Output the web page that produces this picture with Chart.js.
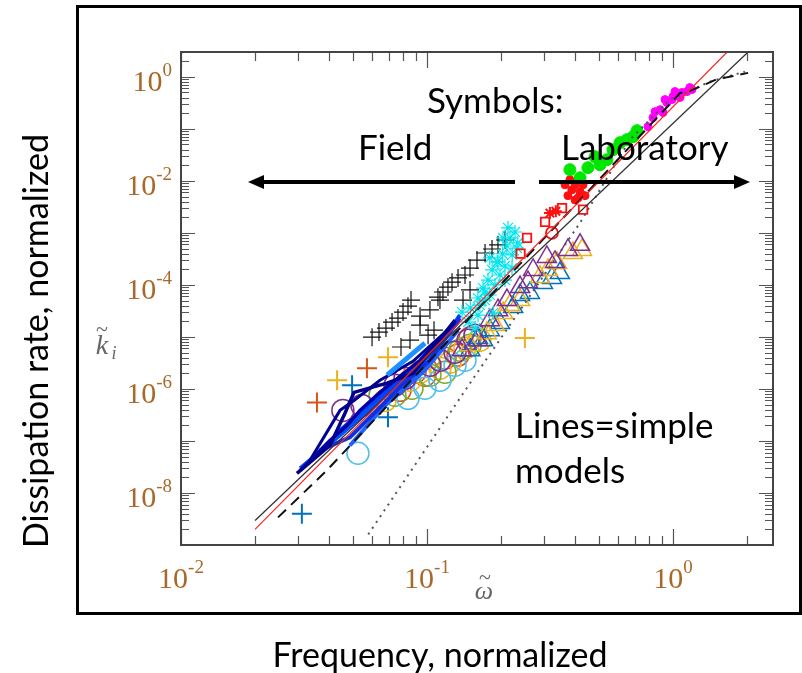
<!DOCTYPE html>
<html>
<head>
<meta charset="utf-8">
<script src="https://cdn.jsdelivr.net/npm/chart.js@4.4.0/dist/chart.umd.min.js"></script>
<style>
  html, body { margin: 0; padding: 0; background: #fff; }
  #wrap { width: 802px; height: 673px; }
</style>
</head>
<body>
<div id="wrap"><canvas id="dissChart" width="802" height="673"></canvas></div>
<script>
// axis ranges
const xRange = [0.01, 2.55];
const yRange = [1e-9, 3];
const xTickValues = [0.01, 0.1, 1];
const xTickExps = ['-2', '-1', '0'];
const yTickValues = [1, 1e-2, 1e-4, 1e-6, 1e-8];
const yTickExps = ['0', '-2', '-4', '-6', '-8'];

// simple model curves
const redLineX = [0.02, 1.66];
const redLineY = [2.0e-9, 3.0];
const solidLineX = [0.02, 2.02];
const solidLineY = [2.95e-9, 3.0];
const dashedLineX = [0.0248, 0.0391, 1.07, 1.17, 1.5, 2.02];
const dashedLineY = [3.4e-9, 2.7e-8, 0.49, 0.53, 0.89, 1.19];
const dottedLineX = [0.0577, 0.1524, 0.419, 0.669, 0.972, 1.414, 1.96];
const dottedLineY = [1.6e-9, 1.47e-6, 1.56e-3, 0.062, 0.365, 0.81, 1.26];

// field records drawn as lines
const bandAX = [0.0296, 0.0403, 0.0464, 0.0505, 0.0688, 0.0877, 0.13];
const bandAY = [2.38e-8, 8.2e-8, 3.4e-7, 8.6e-7, 1.29e-6, 2.0e-6, 2.1e-5];
const bandBX = [0.0305, 0.0403, 0.0473, 0.0534, 0.0644, 0.0937, 0.13];
const bandBY = [2.7e-8, 1.02e-7, 1.99e-7, 3.87e-7, 8.6e-7, 3.56e-6, 1.93e-5];
const bandCX = [0.0367, 0.0486, 0.0586, 0.0777, 0.1028, 0.136];
const bandCY = [6.56e-8, 1.17e-7, 2.85e-7, 1.08e-6, 3.56e-6, 2.3e-5];
const bandDX = [0.0443, 0.056, 0.0777, 0.1129, 0.136];
const bandDY = [1.59e-7, 4.23e-7, 1.47e-6, 6.95e-6, 2.62e-5];
const bandEX = [0.0688, 0.0981];
const bandEY = [1.84e-6, 7.6e-6];
const bandFX = [0.0334, 0.0443, 0.0505, 0.0644, 0.0877, 0.124];
const bandFY = [4.2e-8, 3.87e-7, 6.0e-7, 1.47e-6, 3.4e-6, 1.5e-5];
const bandGX = [0.0305, 0.0443, 0.0644, 0.0937, 0.1337];
const bandGY = [2.97e-8, 1.29e-7, 6.0e-7, 2.86e-6, 1.93e-5];
const bandHX = [0.0486, 0.0675, 0.0981, 0.1337];
const bandHY = [8.2e-8, 4.83e-7, 2.28e-6, 1.35e-5];

// field symbols
const crossX = [0.0598, 0.0638, 0.0681, 0.0721, 0.0762, 0.0799, 0.0837, 0.0861, 0.0784, 0.0853, 0.0937, 0.101, 0.1068, 0.1108, 0.1161, 0.1217, 0.1264, 0.0937, 0.1028, 0.1129, 0.1337, 0.1427, 0.1496, 0.1597, 0.1722, 0.1838, 0.1944, 0.2075, 0.1401, 0.1496];
const crossY = [9.9e-6, 1.24e-5, 1.48e-5, 1.93e-5, 2.3e-5, 3.0e-5, 3.9e-5, 5.1e-5, 6.4e-6, 8.7e-6, 1.69e-5, 1.08e-5, 1.35e-5, 5.8e-5, 7.3e-5, 9.1e-5, 1.13e-4, 2.5e-5, 3.3e-5, 5.1e-5, 1.36e-4, 1.55e-4, 2.1e-4, 3.0e-4, 4.1e-4, 4.9e-4, 5.9e-4, 7.3e-4, 5.1e-5, 8.0e-5];
const cyanX = [0.147, 0.150, 0.161, 0.169, 0.177, 0.184, 0.193, 0.203, 0.211, 0.2175, 0.228, 0.189, 0.198, 0.2075, 0.180, 0.164, 0.172, 0.222, 0.186, 0.157, 0.234, 0.1388, 0.1612, 0.1722, 0.2075, 0.2216, 0.1944, 0.2037, 0.2322, 0.180, 0.2134];
const cyanY = [1.93e-5, 3.6e-5, 5.6e-5, 8.7e-5, 1.24e-4, 1.94e-4, 2.76e-4, 3.94e-4, 5.6e-4, 8.0e-4, 1.04e-3, 1.0e-4, 1.55e-4, 2.31e-4, 6.4e-5, 4.1e-5, 5.1e-5, 3.77e-4, 2.9e-5, 1.48e-5, 6.4e-4, 3.0e-5, 2.62e-5, 7.3e-5, 1.24e-4, 2.11e-4, 2.76e-4, 8.0e-4, 5.1e-4, 3.3e-4, 1.25e-3];
const plusRedX = [0.0357, 0.057];
const plusRedY = [5.5e-7, 2.5e-6];
const plusOrangeX = [0.0431, 0.0694, 0.25];
const plusOrangeY = [1.47e-6, 4.05e-6, 9.5e-6];
const plusBlueX = [0.0496, 0.0694, 0.031];
const plusBlueY = [1.18e-6, 2.85e-7, 4.0e-9];
const circPurpleX = [0.0455, 0.0544, 0.0741, 0.1028, 0.130, 0.1567, 0.0814, 0.1129, 0.1468];
const circPurpleY = [3.87e-7, 4.83e-7, 1.18e-6, 2.86e-6, 5.1e-6, 1.08e-5, 1.6e-6, 3.56e-6, 8.65e-6];
const circSkyX = [0.0524, 0.0837, 0.1129, 0.1427, 0.0981, 0.13];
const circSkyY = [5.8e-8, 6.6e-7, 1.47e-6, 3.56e-6, 1.03e-6, 2.86e-6];
const circGreenX = [0.0869, 0.1184, 0.1496, 0.0644, 0.0741, 0.1028, 0.136];
const circGreenY = [1.03e-6, 2.1e-6, 6.95e-6, 7.55e-7, 7.55e-7, 1.84e-6, 5.55e-6];
const circOrangeX = [0.0675, 0.0937, 0.124, 0.164, 0.0853, 0.1129, 0.1427];
const circOrangeY = [6.0e-7, 2.1e-6, 3.25e-6, 8.65e-6, 1.47e-6, 2.5e-6, 6.1e-6];
const circRedX = [0.0777, 0.0981, 0.1337, 0.0894, 0.1184, 0.1496];
const circRedY = [9.4e-7, 1.84e-6, 4.47e-6, 2.1e-6, 3.9e-6, 9.5e-6];
const triPurpleX = [0.374, 0.307, 0.270, 0.239, 0.2114, 0.180, 0.161, 0.1388, 0.1944, 0.2574, 0.3314, 0.419];
const triPurpleY = [4.7e-4, 3.44e-4, 1.94e-4, 9.1e-5, 5.1e-5, 2.1e-5, 8.65e-6, 5.55e-6, 3.27e-5, 1.13e-4, 2.76e-4, 5.9e-4];
const triOrangeX = [0.392, 0.338, 0.288, 0.239, 0.204, 0.175, 0.1496, 0.2175, 0.3103, 0.4267, 0.189];
const triOrangeY = [4.1e-4, 2.64e-4, 1.42e-4, 5.1e-5, 2.87e-5, 1.18e-5, 6.95e-6, 4.1e-5, 1.94e-4, 4.7e-4, 1.69e-5];
const triBlueX = [0.347, 0.296, 0.262, 0.224, 0.198, 0.169, 0.150, 0.1612, 0.239, 0.322, 0.18];
const triBlueY = [1.69e-4, 1.09e-4, 7.0e-5, 3.75e-5, 1.85e-5, 8.65e-6, 5.55e-6, 9.5e-6, 6.4e-5, 1.36e-4, 1.35e-5];

// laboratory symbols
const labSquareX = [0.24, 0.255, 0.302, 0.354, 0.431];
const labSquareY = [4.0e-4, 8.0e-4, 1.63e-3, 3.0e-3, 2.8e-3];
const labRingX = [0.322];
const labRingY = [1.0e-3];
const labStarX = [0.316, 0.334];
const labStarY = [2.4e-3, 2.6e-3];
const labRedX = [0.374, 0.388, 0.4, 0.411, 0.419, 0.431, 0.381, 0.364, 0.439, 0.4, 0.411];
const labRedY = [5.2e-3, 6.7e-3, 8.4e-3, 0.0105, 6.2e-3, 8.4e-3, 0.0105, 8.4e-3, 5.2e-3, 4.3e-3, 4.7e-3];
const labGreenX = [0.381, 0.419, 0.451, 0.482, 0.505, 0.539, 0.570, 0.609, 0.650, 0.688, 0.714];
const labGreenY = [0.0164, 0.0115, 0.0179, 0.0291, 0.0204, 0.0255, 0.0397, 0.0542, 0.062, 0.0708, 0.0923];
const labMagentaX = [0.791, 0.829, 0.886, 0.911, 0.945, 0.991, 1.0, 1.038, 1.068, 1.088, 1.14, 1.195, 0.845, 0.928, 1.019, 1.17];
const labMagentaY = [0.11, 0.164, 0.234, 0.205, 0.32, 0.365, 0.417, 0.456, 0.4, 0.5, 0.52, 0.57, 0.214, 0.365, 0.521, 0.62];

const pts = (xs, ys) => xs.map((v, i) => ({ x: v, y: ys[i] }));

function lineSet(xs, ys, color, width, dash, order) {
    return {
        data: pts(xs, ys), showLine: true, pointRadius: 0,
        borderColor: color, borderWidth: width, borderDash: dash || [],
        fill: false, order: order
    };
}

function markSet(xs, ys, style, color, radius, width, filled, order) {
    return {
        data: pts(xs, ys), showLine: false,
        pointStyle: style, pointRadius: radius,
        pointBorderColor: color, pointBorderWidth: width,
        pointBackgroundColor: filled ? color : 'rgba(0,0,0,0)',
        order: order
    };
}

const datasets = [
    lineSet(redLineX, redLineY, '#ff2020', 1.2, null, 0),
    lineSet(solidLineX, solidLineY, '#333333', 1.3, null, 1),
    lineSet(dashedLineX, dashedLineY, '#111111', 2, [11, 7], 2),
    lineSet(dottedLineX, dottedLineY, '#555555', 2, [2, 5], 3),
    lineSet(bandAX, bandAY, '#00008b', 3.5, null, 4),
    lineSet(bandBX, bandBY, '#0000a8', 3.5, null, 5),
    lineSet(bandCX, bandCY, '#1030e0', 4, null, 6),
    lineSet(bandDX, bandDY, '#0040ff', 4, null, 7),
    lineSet(bandEX, bandEY, '#1e90ff', 5, null, 8),
    lineSet(bandFX, bandFY, '#000090', 3, null, 9),
    lineSet(bandGX, bandGY, '#0050ff', 4, null, 9),
    lineSet(bandHX, bandHY, '#2060ff', 4, null, 9),
    markSet(labMagentaX, labMagentaY, 'circle', '#ff00ff', 4, 1, true, 10),
    markSet(labGreenX, labGreenY, 'circle', '#00e600', 6, 1, true, 11),
    markSet(labRedX, labRedY, 'circle', '#ff1010', 4, 1, true, 12),
    markSet(labStarX, labStarY, 'star', '#ff1010', 6, 2, false, 13),
    markSet(labRingX, labRingY, 'circle', '#ff1010', 6, 1.8, false, 14),
    markSet(labSquareX, labSquareY, 'rect', '#ff1010', 6, 1.8, false, 15),
    markSet(cyanX, cyanY, 'star', '#00e5ee', 7, 1.2, false, 16),
    markSet(crossX, crossY, 'cross', '#111111', 9, 1.2, false, 17),
    markSet(triPurpleX, triPurpleY, 'triangle', '#7e2f8e', 11, 1.5, false, 18),
    markSet(triOrangeX, triOrangeY, 'triangle', '#edb120', 11, 1.5, false, 19),
    markSet(triBlueX, triBlueY, 'triangle', '#0072bd', 11, 1.5, false, 20),
    markSet(circPurpleX, circPurpleY, 'circle', '#7e2f8e', 11, 1.5, false, 21),
    markSet(circSkyX, circSkyY, 'circle', '#4dbeee', 11, 1.5, false, 22),
    markSet(circGreenX, circGreenY, 'circle', '#77ac30', 11, 1.5, false, 23),
    markSet(circOrangeX, circOrangeY, 'circle', '#edb120', 11, 1.5, false, 24),
    markSet(circRedX, circRedY, 'circle', '#d95319', 11, 1.5, false, 25),
    markSet(plusRedX, plusRedY, 'cross', '#d95319', 10, 2, false, 26),
    markSet(plusOrangeX, plusOrangeY, 'cross', '#edb120', 10, 2, false, 27),
    markSet(plusBlueX, plusBlueY, 'cross', '#0072bd', 10, 2, false, 28)
];

function drawPower(ctx, exp, x, y, align) {
    ctx.font = '30px "Liberation Serif"';
    const wBase = ctx.measureText('10').width;
    ctx.font = '19px "Liberation Serif"';
    const wExp = ctx.measureText(exp).width;
    const total = wBase + wExp;
    const left = align === 'right' ? x - total : x - total / 2;
    ctx.textAlign = 'left';
    ctx.textBaseline = 'alphabetic';
    ctx.font = '30px "Liberation Serif"';
    ctx.fillText('10', left, y);
    ctx.font = '19px "Liberation Serif"';
    ctx.fillText(exp, left + wBase, y - 15);
}

function arrow(ctx, x0, x1, y) {
    const dir = Math.sign(x1 - x0);
    ctx.beginPath();
    ctx.moveTo(x0, y);
    ctx.lineTo(x1 - dir * 14, y);
    ctx.stroke();
    ctx.beginPath();
    ctx.moveTo(x1, y);
    ctx.lineTo(x1 - dir * 16, y - 7);
    ctx.lineTo(x1 - dir * 16, y + 7);
    ctx.closePath();
    ctx.fill();
}

const frameAndText = {
    id: 'frameAndText',
    afterDatasetsDraw(chart) {
        const { ctx, chartArea: a, scales: { x, y } } = chart;
        ctx.save();

        // inward ticks on all four sides
        ctx.strokeStyle = '#555';
        ctx.lineWidth = 1.2;
        ctx.beginPath();
        for (let d = -2; d <= 0; d++) {
            for (let m = 1; m <= 9; m++) {
                const v = m * Math.pow(10, d);
                if (v > xRange[1]) break;
                const px = Math.round(x.getPixelForValue(v)) + 0.5;
                const len = m === 1 ? 16 : 9;
                ctx.moveTo(px, a.bottom); ctx.lineTo(px, a.bottom - len);
                ctx.moveTo(px, a.top); ctx.lineTo(px, a.top + len);
            }
        }
        for (let d = -9; d <= 0; d++) {
            for (let m = 1; m <= 9; m++) {
                const v = m * Math.pow(10, d);
                if (v > yRange[1]) break;
                const py = Math.round(y.getPixelForValue(v)) + 0.5;
                const len = m === 1 ? 14 : 8;
                ctx.moveTo(a.left, py); ctx.lineTo(a.left + len, py);
                ctx.moveTo(a.right, py); ctx.lineTo(a.right - len, py);
            }
        }
        ctx.stroke();

        ctx.strokeStyle = '#444';
        ctx.lineWidth = 2;
        ctx.strokeRect(a.left, a.top, a.right - a.left, a.bottom - a.top);

        // tick labels
        ctx.fillStyle = '#a8682a';
        xTickValues.forEach((v, i) => drawPower(ctx, xTickExps[i], x.getPixelForValue(v), 588, 'center'));
        yTickValues.forEach((v, i) => drawPower(ctx, yTickExps[i], 172, y.getPixelForValue(v) + 14, 'right'));

        // axis symbols, tilde drawn as an accent over the letter
        ctx.fillStyle = '#666';
        ctx.textAlign = 'center';
        ctx.font = 'italic 26px "Liberation Serif"';
        ctx.fillText('\u03c9', 484, 599);
        ctx.font = '22px "Liberation Serif"';
        ctx.fillText('~', 485, 584);
        ctx.font = 'italic 28px "Liberation Serif"';
        ctx.fillText('k', 102, 354);
        ctx.font = '22px "Liberation Serif"';
        ctx.fillText('~', 102, 336);
        ctx.font = 'italic 18px "Liberation Serif"';
        ctx.fillText('i', 114, 359);

        // annotations
        ctx.fillStyle = '#000';
        ctx.textAlign = 'left';
        ctx.font = '35px Lato';
        ctx.fillText('Symbols:', 427, 113);
        ctx.fillText('Field', 358, 160);
        ctx.fillText('Laboratory', 561, 160);
        ctx.fillText('Lines=simple', 515, 438);
        ctx.fillText('models', 515, 483);

        ctx.strokeStyle = '#000';
        ctx.lineWidth = 4;
        arrow(ctx, 515, 248, 182);
        arrow(ctx, 539, 750, 182);

        // outer box and axis titles
        ctx.lineWidth = 3;
        ctx.strokeRect(77.5, 6.5, 723, 607);
        ctx.font = '34px Lato';
        ctx.textAlign = 'center';
        ctx.fillText('Frequency, normalized', 440, 667);
        ctx.translate(48, 341);
        ctx.rotate(-Math.PI / 2);
        ctx.fillText('Dissipation rate, normalized', 0, 0);
        ctx.restore();
    }
};

new Chart(document.getElementById('dissChart'), {
    type: 'scatter',
    data: { datasets: datasets },
    options: {
        responsive: false,
        devicePixelRatio: 1,
        animation: false,
        layout: { padding: { left: 181, right: 29, top: 52, bottom: 128 } },
        scales: {
            x: { type: 'logarithmic', min: xRange[0], max: xRange[1], display: false },
            y: { type: 'logarithmic', min: yRange[0], max: yRange[1], display: false }
        },
        plugins: { legend: { display: false }, tooltip: { enabled: false } }
    },
    plugins: [frameAndText]
});
</script>
</body>
</html>
